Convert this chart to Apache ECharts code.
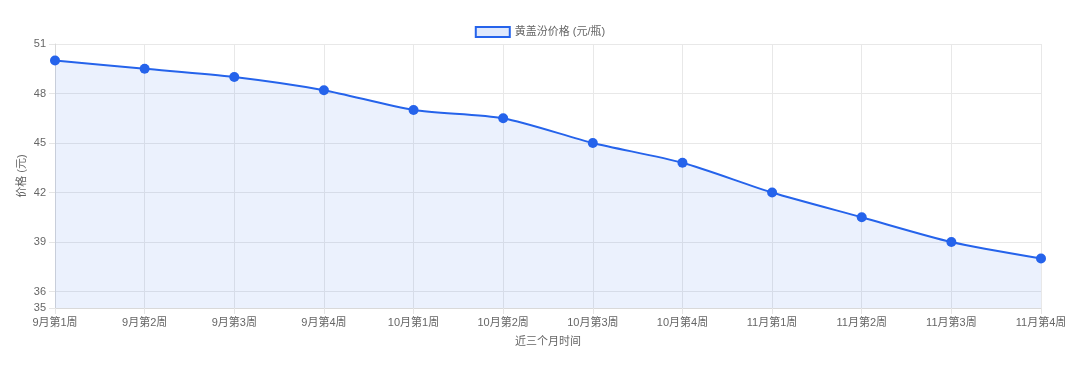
<!DOCTYPE html>
<html><head><meta charset="utf-8">
<script src="https://cdn.jsdelivr.net/npm/echarts@6/dist/echarts.min.js"></script>
<style>html,body{margin:0;padding:0;background:#fff}#c{width:1080px;height:365px}</style>
</head><body><div id="c"></div>
<script>
const categories = ['9月第1周','9月第2周','9月第3周','9月第4周','10月第1周','10月第2周','10月第3周','10月第4周','11月第1周','11月第2周','11月第3周','11月第4周'];
const prices = [50, 49.5, 49, 48.2, 47, 46.5, 45, 43.8, 42, 40.5, 39, 38];
const yTicks = [35, 36, 39, 42, 45, 48, 51];
const seriesName = '黄盖汾价格 (元/瓶)';

const font = '"Liberation Sans", "Noto Sans CJK SC", sans-serif';
const chart = echarts.init(document.getElementById('c'));
chart.setOption({
  animation: false,
  textStyle: {fontFamily: font},
  legend: {
    top: 21, left: 'center', itemWidth: 34, itemHeight: 10, itemGap: 6,
    textStyle: {color: '#666', fontSize: 11, fontFamily: font},
    data: [{name: seriesName, icon: 'rect', itemStyle: {color: 'rgba(37,99,235,0.14)', borderColor: '#2563eb', borderWidth: 2}}]
  },
  grid: {left: 55, right: 39, top: 44, bottom: 57},
  xAxis: {
    type: 'category', data: categories, boundaryGap: false,
    name: '近三个月时间', nameLocation: 'middle', nameGap: 28,
    nameTextStyle: {color: '#666', fontSize: 11, fontFamily: font},
    axisLine: {lineStyle: {color: '#d9d9d9'}},
    axisTick: {show: true, length: 6, lineStyle: {color: '#e5e5e5'}},
    axisLabel: {color: '#666', fontSize: 11, margin: 9, fontFamily: font},
    splitLine: {show: true, lineStyle: {color: '#e8e8e8'}}
  },
  yAxis: {
    type: 'value', min: 35, max: 51,
    name: '价格 (元)', nameLocation: 'middle', nameGap: 33,
    nameMoveOverlap: false,
    nameTextStyle: {color: '#666', fontSize: 11, fontFamily: font, verticalAlign: 'middle'},
    axisLine: {show: true, lineStyle: {color: '#d9d9d9'}},
    axisTick: {show: true, length: 6, lineStyle: {color: '#e5e5e5'}, customValues: yTicks},
    axisLabel: {color: '#666', fontSize: 11, margin: 9, customValues: yTicks, fontFamily: font},
    splitLine: {show: true, lineStyle: {color: '#e8e8e8'}}
  },
  series: [{
    name: seriesName, type: 'line', data: prices, smooth: 0.25,
    symbol: 'circle', symbolSize: 10,
    itemStyle: {color: '#2563eb'},
    lineStyle: {color: '#2563eb', width: 2},
    areaStyle: {color: 'rgba(37,99,235,0.13)'}
  }]
});
</script></body></html>
